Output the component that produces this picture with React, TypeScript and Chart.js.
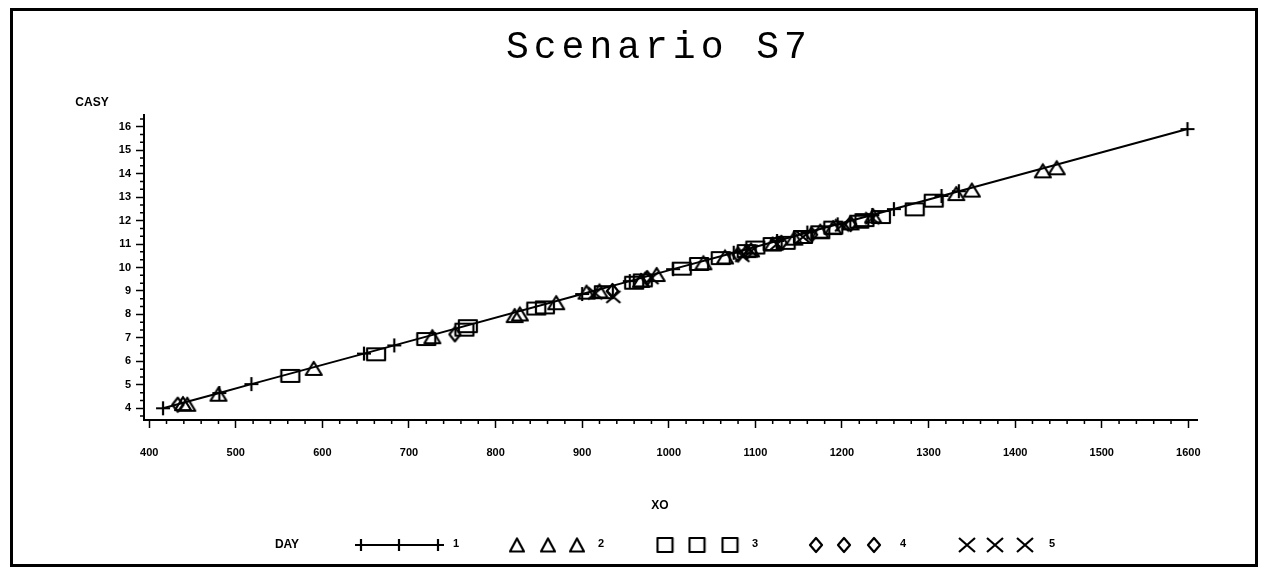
import React, { useEffect, useRef } from "react";
import { Chart, registerables } from "chart.js";

Chart.register(...registerables);

// ---------- text ----------
const TITLE = "Scenario S7";
const X_TITLE = "XO";
const Y_TITLE = "CASY";
const LEGEND_TITLE = "DAY";
const DAY_LABELS = ["1", "2", "3", "4", "5"];

// ---------- axes ----------
const X_MIN = 394;
const X_MAX = 1610;
const Y_MIN = 3.5;
const Y_MAX = 16.5;
const X_TICKS = [400, 500, 600, 700, 800, 900, 1000, 1100, 1200, 1300, 1400, 1500, 1600];
const Y_TICKS = [4, 5, 6, 7, 8, 9, 10, 11, 12, 13, 14, 15, 16];

// ---------- data ----------
const DAY1_X = [416, 481, 518, 648, 683, 900, 955, 1005, 1075, 1125, 1160, 1195, 1235, 1260, 1315, 1335, 1599];
const DAY1_Y = [4.0, 4.65, 5.03, 6.33, 6.68, 8.87, 9.42, 9.93, 10.63, 11.13, 11.49, 11.84, 12.24, 12.49, 13.05, 13.25, 15.9];

const DAY2_X = [439, 444, 480, 590, 727, 822, 828, 870, 905, 920, 968, 986, 1040, 1065, 1095, 1120, 1145, 1175, 1190, 1210, 1236, 1332, 1350, 1432, 1448];
const DAY2_Y = [4.2, 4.17, 4.6, 5.7, 7.05, 7.95, 8.02, 8.5, 8.95, 9.0, 9.45, 9.7, 10.2, 10.45, 10.75, 11.0, 11.25, 11.55, 11.7, 11.9, 12.2, 13.15, 13.3, 14.12, 14.25];

const DAY3_X = [563, 662, 720, 764, 768, 847, 857, 925, 960, 970, 1015, 1035, 1060, 1090, 1100, 1120, 1135, 1155, 1175, 1190, 1220, 1226, 1245, 1284, 1306];
const DAY3_Y = [5.38, 6.3, 6.95, 7.35, 7.5, 8.25, 8.3, 8.95, 9.35, 9.45, 9.95, 10.15, 10.4, 10.7, 10.85, 11.0, 11.05, 11.3, 11.5, 11.7, 11.95, 12.02, 12.15, 12.48, 12.85];

const DAY4_X = [433, 753, 935, 975, 1080, 1090, 1130, 1165, 1210];
const DAY4_Y = [4.15, 7.15, 9.0, 9.55, 10.55, 10.65, 11.05, 11.4, 11.85];

const DAY5_X = [915, 936, 980, 1085, 1095, 1125, 1155, 1200, 1235];
const DAY5_Y = [8.9, 8.75, 9.55, 10.5, 10.7, 11.0, 11.3, 11.8, 12.1];

type Kind = "plus" | "tri" | "rect" | "diamond" | "x";

function makeMarker(kind: Kind, w: number, h: number): HTMLCanvasElement {
  const pad = 2;
  const c = document.createElement("canvas");
  c.width = w + pad * 2;
  c.height = h + pad * 2;
  const g = c.getContext("2d")!;
  g.strokeStyle = "#000";
  g.lineWidth = 2.2;
  g.lineJoin = "round";
  g.beginPath();
  if (kind === "plus") {
    g.moveTo(pad, pad + h / 2);
    g.lineTo(pad + w, pad + h / 2);
    g.moveTo(pad + w / 2, pad);
    g.lineTo(pad + w / 2, pad + h);
  } else if (kind === "tri") {
    g.moveTo(pad + w / 2, pad);
    g.lineTo(pad + w, pad + h);
    g.lineTo(pad, pad + h);
    g.closePath();
  } else if (kind === "rect") {
    g.rect(pad, pad, w, h);
  } else if (kind === "diamond") {
    g.moveTo(pad + w / 2, pad);
    g.lineTo(pad + w, pad + h / 2);
    g.lineTo(pad + w / 2, pad + h);
    g.lineTo(pad, pad + h / 2);
    g.closePath();
  } else {
    g.moveTo(pad, pad);
    g.lineTo(pad + w, pad + h);
    g.moveTo(pad + w, pad);
    g.lineTo(pad, pad + h);
  }
  g.stroke();
  return c;
}

function pts(xs: number[], ys: number[]) {
  return xs.map((x, i) => ({ x, y: ys[i] }));
}

export default function App() {
  const ref = useRef<HTMLCanvasElement | null>(null);

  useEffect(() => {
    const canvas = ref.current;
    if (!canvas) return;

    const mk = {
      plus: makeMarker("plus", 14, 14),
      tri: makeMarker("tri", 16, 13),
      rect: makeMarker("rect", 18, 12),
      diamond: makeMarker("diamond", 11, 14),
      x: makeMarker("x", 14, 12),
    };
    const lg = {
      plus: makeMarker("plus", 12, 12),
      tri: makeMarker("tri", 14, 13),
      rect: makeMarker("rect", 15, 14),
      diamond: makeMarker("diamond", 12, 14),
      x: makeMarker("x", 16, 14),
    };

    const fontBold = (s: number) => `bold ${s}px 'Liberation Sans', Arial, sans-serif`;

    const decor = {
      id: "decor",
      afterDraw(chart: any) {
        const ctx: CanvasRenderingContext2D = chart.ctx;
        const xs = chart.scales.x;
        const ys = chart.scales.y;
        const area = chart.chartArea;
        ctx.save();
        // minor ticks
        ctx.strokeStyle = "#000";
        ctx.lineWidth = 1.5;
        ctx.beginPath();
        for (let v = 400; v <= X_MAX; v += 20) {
          if (v % 100 === 0) continue;
          const px = xs.getPixelForValue(v);
          ctx.moveTo(px, area.bottom);
          ctx.lineTo(px, area.bottom + 4);
        }
        const kStart = Math.ceil((Y_MIN - 4) * 3);
        const kEnd = Math.floor((Y_MAX - 4) * 3);
        for (let k = kStart; k <= kEnd; k++) {
          if (k % 3 === 0) continue;
          const py = ys.getPixelForValue(4 + k / 3);
          ctx.moveTo(area.left - 4, py);
          ctx.lineTo(area.left, py);
        }
        ctx.stroke();

        // title
        ctx.fillStyle = "#000";
        ctx.font = "38px 'Liberation Mono', 'Courier New', monospace";
        ctx.textBaseline = "alphabetic";
        ctx.textAlign = "left";
        try {
          (ctx as any).letterSpacing = "5px";
        } catch (e) {}
        ctx.fillText(TITLE, 493, 47);
        try {
          (ctx as any).letterSpacing = "0px";
        } catch (e) {}

        // axis titles
        ctx.font = fontBold(12);
        ctx.textAlign = "center";
        ctx.textBaseline = "middle";
        ctx.fillText(Y_TITLE, 79, 92);
        ctx.fillText(X_TITLE, 647, 495);

        // legend
        const ly = 534;
        ctx.fillText(LEGEND_TITLE, 274, ly);
        ctx.lineWidth = 2;
        ctx.beginPath();
        ctx.moveTo(348, ly);
        ctx.lineTo(425, ly);
        ctx.stroke();
        const drawM = (img: HTMLCanvasElement, cx: number) => {
          ctx.drawImage(img, cx - img.width / 2, ly - img.height / 2);
        };
        const groups: [HTMLCanvasElement, number[], number][] = [
          [lg.plus, [348, 386, 425], 443],
          [lg.tri, [504, 535, 564], 588],
          [lg.rect, [652, 684, 717], 742],
          [lg.diamond, [803, 831, 861], 890],
          [lg.x, [954, 982, 1012], 1039],
        ];
        ctx.font = fontBold(11);
        groups.forEach(([img, xsPos, tx], i) => {
          xsPos.forEach((p) => drawM(img, p));
          ctx.fillText(DAY_LABELS[i], tx, ly - 1);
        });
        ctx.restore();
      },
    };

    const chart = new Chart(canvas, {
      type: "scatter",
      data: {
        datasets: [
          {
            label: DAY_LABELS[0],
            data: pts(DAY1_X, DAY1_Y),
            showLine: true,
            borderColor: "#000",
            borderWidth: 2,
            pointStyle: mk.plus,
            pointRadius: 7,
          },
          { label: DAY_LABELS[1], data: pts(DAY2_X, DAY2_Y), pointStyle: mk.tri, pointRadius: 8 },
          { label: DAY_LABELS[2], data: pts(DAY3_X, DAY3_Y), pointStyle: mk.rect, pointRadius: 8 },
          { label: DAY_LABELS[3], data: pts(DAY4_X, DAY4_Y), pointStyle: mk.diamond, pointRadius: 7 },
          { label: DAY_LABELS[4], data: pts(DAY5_X, DAY5_Y), pointStyle: mk.x, pointRadius: 7 },
        ] as any,
      },
      options: {
        animation: false,
        responsive: false,
        maintainAspectRatio: false,
        devicePixelRatio: 1,
        events: [],
        layout: { padding: { left: 0, top: 104, right: 58, bottom: 0 } },
        plugins: { legend: { display: false }, tooltip: { enabled: false }, title: { display: false } },
        scales: {
          x: {
            type: "linear",
            min: X_MIN,
            max: X_MAX,
            afterBuildTicks: (s: any) => {
              s.ticks = X_TICKS.map((v) => ({ value: v }));
            },
            afterFit: (s: any) => {
              s.height = 144;
            },
            border: { display: true, color: "#000", width: 2 },
            grid: { display: true, drawOnChartArea: false, drawTicks: true, tickLength: 8, tickColor: "#000", tickWidth: 1.5 },
            ticks: {
              color: "#000",
              padding: 18,
              maxRotation: 0,
              autoSkip: false,
              font: { family: "'Liberation Sans', Arial, sans-serif", size: 11, weight: "bold" },
              callback: (v: any) => String(v),
            },
          },
          y: {
            type: "linear",
            min: Y_MIN,
            max: Y_MAX,
            afterBuildTicks: (s: any) => {
              s.ticks = Y_TICKS.map((v) => ({ value: v }));
            },
            afterFit: (s: any) => {
              s.width = 131;
            },
            border: { display: true, color: "#000", width: 2 },
            grid: { display: true, drawOnChartArea: false, drawTicks: true, tickLength: 8, tickColor: "#000", tickWidth: 1.5 },
            ticks: {
              color: "#000",
              padding: 5,
              autoSkip: false,
              font: { family: "'Liberation Sans', Arial, sans-serif", size: 11, weight: "bold" },
              callback: (v: any) => String(v),
            },
          },
        },
      } as any,
      plugins: [decor],
    });

    return () => chart.destroy();
  }, []);

  return (
    <div
      style={{
        position: "absolute",
        left: 10,
        top: 8,
        width: 1248,
        height: 559,
        border: "3px solid #000",
        boxSizing: "border-box",
        background: "#fff",
      }}
    >
      <canvas ref={ref} width={1242} height={553} style={{ display: "block" }} />
    </div>
  );
}
